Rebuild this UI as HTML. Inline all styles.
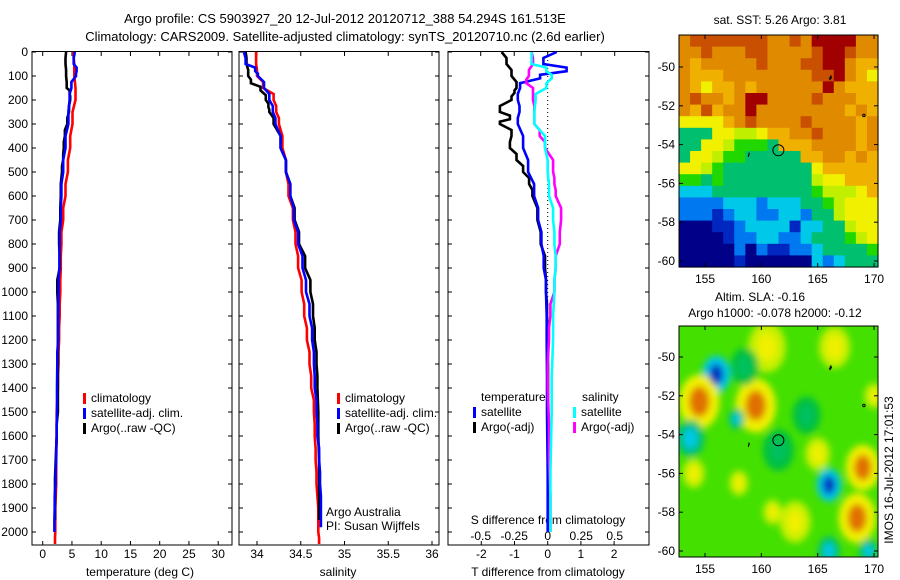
<!DOCTYPE html>
<html><head><meta charset="utf-8"><style>
html,body{margin:0;padding:0;background:#fff}
svg{display:block;font-family:"Liberation Sans",sans-serif}
</style></head><body>
<svg id="c" width="900" height="580" xmlns="http://www.w3.org/2000/svg">
<defs>
<filter id="blur" x="-20%" y="-20%" width="140%" height="140%"><feGaussianBlur stdDeviation="3.5"/></filter>
<clipPath id="clip2"><rect x="679" y="326" width="199" height="231"/></clipPath>
</defs>
<text x="345" y="23" font-size="13" text-anchor="middle">Argo profile: CS 5903927_20 12-Jul-2012 20120712_388 54.294S 161.513E</text>
<text x="345" y="41" font-size="13" text-anchor="middle">Climatology: CARS2009. Satellite-adjusted climatology: synTS_20120710.nc (2.6d earlier)</text>
<g id="g"></g>
</svg>
<script>
// ---- data ----
const depthTicks=[0,100,200,300,400,500,600,700,800,900,1000,1100,1200,1300,1400,1500,1600,1700,1800,1900,2000];
const tTicks=[0,5,10,15,20,25,30];
const sTicks=[34,34.5,35,35.5,36];
const dTTicks=[-2,-1,0,1,2];
const dSTicks=[-0.5,-0.25,0,0.25,0.5];
const dSTickLabels=["-0.5","-0.25","0","0.25","0.5"];
const lonTicks=[155,160,165,170];
const latTicks=[-50,-52,-54,-56,-58,-60];

const tClimD=[0,100,200,300,400,500,600,700,800,900,1000,1100,1200,1300,1400,1600,1800,2000,2050];
const tClimV=[5.2,5.4,5.6,5.1,4.7,4.3,3.9,3.5,3.2,3.1,3.0,2.9,2.8,2.7,2.6,2.4,2.3,2.15,2.1];
const tSatD=[0,50,80,100,150,200,300,400,500,600,700,800,900,1000,1200,1300,1500,1600,1700,1800,1900,2000];
const tSatV=[5.5,5.3,5.8,5.7,4.9,4.6,4.4,3.9,3.5,3.2,3.1,2.9,2.85,2.7,2.65,2.5,2.45,2.4,2.3,2.2,2.05,2.0];
const tArgoD=[0,50,100,150,170,200,250,300,350,400,450,500,600,700,800,900,1000,1100,1500,1600,1950];
const tArgoV=[4.0,3.9,4.0,4.1,4.6,4.7,4.5,4.2,3.8,3.6,3.5,3.3,3.1,3.0,2.8,2.9,2.5,2.6,2.6,2.4,2.1];

const sClimD=[0,50,100,150,200,250,300,400,500,600,700,800,900,1000,1100,1200,1300,1400,1500,1600,1700,1800,2000,2050];
const sClimV=[33.99,33.99,34.0,34.07,34.19,34.22,34.25,34.29,34.33,34.36,34.41,34.44,34.47,34.51,34.54,34.57,34.6,34.62,34.65,34.66,34.67,34.68,34.7,34.71];
const sSatD=[0,50,80,100,150,200,250,300,400,500,600,700,800,900,1000,1100,1200,1300,1400,1500,1600,1700,1800,1900,1980];
const sSatV=[33.85,33.87,33.98,34.01,34.08,34.14,34.18,34.21,34.27,34.33,34.38,34.42,34.47,34.52,34.56,34.6,34.63,34.65,34.66,34.68,34.69,34.71,34.72,34.73,34.73];
const sArgoD=[0,50,100,130,160,200,230,250,300,400,500,600,700,800,900,1000,1100,1200,1300,1400,1600,1800,1950];
const sArgoV=[33.87,33.88,33.9,33.93,34.04,34.1,34.13,34.14,34.19,34.27,34.33,34.38,34.43,34.48,34.55,34.61,34.64,34.66,34.68,34.69,34.7,34.71,34.71];

const dTSatD=[0,50,80,110,150,200,250,300,400,500,600,700,800,900,1000,1200,1500,2000];
const dTSatV=[0.27,-0.13,0.57,-0.23,-0.83,-0.9,-0.85,-0.9,-0.74,-0.59,-0.41,-0.29,-0.19,-0.12,-0.05,-0.03,-0.02,0];
const dTArgoD=[0,50,100,150,170,200,250,280,300,350,400,450,500,550,600,700,800,900,1000,1100,1500,1950];
const dTArgoV=[-1.39,-1.24,-1.09,-0.94,-1.0,-1.09,-1.44,-1.14,-1.44,-1.09,-1.14,-0.94,-0.74,-0.56,-0.46,-0.31,-0.21,-0.08,-0.05,-0.02,0.01,0.03];
const dSSatD=[0,50,80,110,150,200,300,400,500,600,700,800,900,1000,1200,1500,2000];
const dSSatV=[-0.12,-0.12,-0.01,0.03,-0.01,-0.09,-0.1,-0.02,0.0,0.01,0.04,0.05,0.06,0.05,0.04,0.03,0.02];
const dSArgoD=[0,50,100,130,170,200,250,300,350,400,500,550,600,700,800,900,1000,1100,1200,1400,1700,2000];
const dSArgoV=[-0.12,-0.11,-0.14,-0.16,-0.11,-0.11,-0.1,-0.1,-0.06,-0.02,0.04,0.05,0.06,0.1,0.09,0.06,0.05,0.02,0.01,0.0,0.01,0.02];

const sstRows=[
"orrrrrrrooroRRRRoo","oorooorroooorRRroo","oOooooorooorrRRoOO","oOOOoooooooorrRoOy",
"oOyOOoOooooooRoOOO","orooOoRRooooroooOO","oOrOooRooooooooOoO","yyyyOoroooorooooOo",
"GGGyyYYyOOooroooOo","GGyyYgggGOOOooooOo","GyyYggGGGGGOOooOoO","yyYgGGGGGGGGyOOOOO",
"ggGgGGGGGGGGYyyOOO","cccGGGGGGGGGgYYYyO","bbbbcccbcccGGgYyyy","bbbBbccbbccbGGYyyy",
"nnnBBbccccBccGGYyy","nnnnBbbccbbcGGGgYy","nnnnnbnbBBbbcGGGGg","nnnnnBnnnnnncbcGGG"];
// SLA blobs: lon, lat, radius(deg), colour code
const slaLon=[156,154.5,159.5,169,168.5,166,153.7,157.8,160.5,165,163,154,158,161,166.5,170,161.5,158.5,166,169.5,164];
const slaLat=[-50.9,-52.3,-52.5,-55.7,-58.3,-56.6,-54.2,-53.2,-49.5,-55,-58.5,-56,-56.5,-58,-49.5,-52,-54.8,-50.5,-60,-60,-53];
const slaRad=[0.9,1.3,1.3,1.1,1.2,0.8,0.9,0.5,1.2,0.8,1.0,0.7,0.6,0.6,1.0,0.6,1.0,0.9,0.7,0.6,0.9];
const slaCol=["B","O","O","O","O","B","c","c","y","y","y","y","y","y","y","y","G","G","c","c","G"];

const C={R:"#a00000",r:"#c85000",o:"#e08a00",O:"#f0b000",y:"#f0f000",Y:"#c0f000",g:"#20d800",G:"#00c070",c:"#00c8e8",b:"#0078f0",B:"#0028c0",n:"#000088"};

// ---- helpers ----
const NS="http://www.w3.org/2000/svg";
const root=document.getElementById('g');
function mk(tag,attrs,parent){const e=document.createElementNS(NS,tag);for(const k in attrs)e.setAttribute(k,attrs[k]);(parent||root).appendChild(e);return e;}
function txt(x,y,s,size,anchor,parent){const t=mk('text',{x:x,y:y,'font-size':size||12,'text-anchor':anchor||'middle'},parent);t.textContent=s;return t;}
const Y0=52,DS=0.24,YB=545;
const yD=d=>Y0+d*DS;
const xT=v=>42.7+v*5.85;
const xS=v=>257+(v-34)*87.5;
const xDT=v=>547.7+v*33.2;
const xDS=v=>547.7+v*134;
function stepPath(D,V,fx){let s="";for(let i=0;i<D.length;i++){const x=fx(V[i]).toFixed(1),y=yD(D[i]).toFixed(1);if(i==0)s+="M"+x+","+y;else{s+="L"+x+","+yD((D[i-1]+D[i])/2).toFixed(1)+"L"+x+","+y;}}return s;}
function series(D,V,fx,col,name){const p=mk('path',{d:stepPath(D,V,fx),fill:'none',stroke:col,'stroke-width':2.6,'stroke-linejoin':'miter'});

}
function panel(x0,x1,name){const r=mk('rect',{x:x0,y:51.5,width:x1-x0,height:YB-51.5,fill:'none',stroke:'#000','stroke-width':1});


depthTicks.forEach(d=>{mk('line',{x1:x0,x2:x0+4,y1:yD(d),y2:yD(d),stroke:'#000'});mk('line',{x1:x1,x2:x1-4,y1:yD(d),y2:yD(d),stroke:'#000'});});}
function legend(x,y,items,parent){items.forEach((it,i)=>{mk('rect',{x:x,y:y+i*15-9,width:3,height:11,fill:it[1]});const t=txt(x+8,y+i*15,it[0],12,'start');

});}

// ---- panel 1: temperature ----
panel(32,232,'temperature-panel');
depthTicks.forEach(d=>{const t=txt(28,yD(d)+4,String(d),12,'end');

});
tTicks.forEach(v=>{mk('line',{x1:xT(v),x2:xT(v),y1:YB,y2:YB-4,stroke:'#000'});mk('line',{x1:xT(v),x2:xT(v),y1:51.5,y2:56,stroke:'#000'});const t=txt(xT(v),558,String(v),12);

});
(function(){const t=txt(140,576,'temperature (deg C)',12);})();
series(tClimD,tClimV,xT,'#f00','temperature-climatology-line');
series(tArgoD,tArgoV,xT,'#000','temperature-argo-line');
series(tSatD,tSatV,xT,'#00f','temperature-satellite-line');
legend(83,402,[['climatology','#f00'],['satellite-adj. clim.','#00f'],['Argo(..raw -QC)','#000']]);

// ---- panel 2: salinity ----
panel(239,439,'salinity-panel');
sTicks.forEach(v=>{mk('line',{x1:xS(v),x2:xS(v),y1:YB,y2:YB-4,stroke:'#000'});mk('line',{x1:xS(v),x2:xS(v),y1:51.5,y2:56,stroke:'#000'});const t=txt(xS(v),558,String(v),12);

});
(function(){const t=txt(338,576,'salinity',12);})();
series(sClimD,sClimV,xS,'#f00','salinity-climatology-line');
series(sArgoD,sArgoV,xS,'#000','salinity-argo-line');
series(sSatD,sSatV,xS,'#00f','salinity-satellite-line');
legend(337,402,[['climatology','#f00'],['satellite-adj. clim.','#00f'],['Argo(..raw -QC)','#000']]);
txt(326,516,'Argo Australia',12,'start');
txt(326,530,'PI: Susan Wijffels',12,'start');

// ---- panel 3: differences ----
panel(448,649,'difference-panel');
mk('line',{x1:xDT(0),x2:xDT(0),y1:52,y2:515,stroke:'#000','stroke-dasharray':'1,3'});
dTTicks.forEach(v=>{mk('line',{x1:xDT(v),x2:xDT(v),y1:YB,y2:YB-4,stroke:'#000'});const t=txt(xDT(v),558,String(v),12);

});
dSTicks.forEach((v,i)=>{mk('line',{x1:xDS(v),x2:xDS(v),y1:51.5,y2:56,stroke:'#000'});const t=txt(xDS(v),540,dSTickLabels[i],12);

});
(function(){const t=txt(548,524,'S difference from climatology',12);
const u=txt(548,576,'T difference from climatology',12);})();
series(dTArgoD,dTArgoV,xDT,'#000','t-difference-argo-line');
series(dTSatD,dTSatV,xDT,'#00f','t-difference-satellite-line');
series(dSArgoD,dSArgoV,xDS,'#f0f','s-difference-argo-line');
series(dSSatD,dSSatV,xDS,'#0ff','s-difference-satellite-line');
txt(481,401,'temperature',12,'start');
txt(582,401,'salinity',12,'start');
legend(473,416,[['satellite','#00f'],['Argo(-adj)','#000']]);
legend(573,416,[['satellite','#0ff'],['Argo(-adj)','#f0f']]);

// ---- maps ----
const mxL=lon=>705+(lon-155)*11.27;
function drawAxes(y0,y1,latY,name){const r=mk('rect',{x:679,y:y0,width:199,height:y1-y0,fill:'none',stroke:'#000'});


lonTicks.forEach(v=>{mk('line',{x1:mxL(v),x2:mxL(v),y1:y1,y2:y1-4,stroke:'#000'});mk('line',{x1:mxL(v),x2:mxL(v),y1:y0,y2:y0+4,stroke:'#000'});txt(mxL(v),y1+16,String(v),12);});
latTicks.forEach(v=>{mk('line',{x1:679,x2:683,y1:latY(v),y2:latY(v),stroke:'#000'});mk('line',{x1:878,x2:874,y1:latY(v),y2:latY(v),stroke:'#000'});txt(675,latY(v)+4,String(v),12,'end');});
mk('circle',{cx:mxL(161.51),cy:latY(-54.294),r:5.5,fill:'none',stroke:'#000','stroke-width':1});
mk('path',{d:`M${mxL(166)} ${latY(-50.6)} l2 -4 l1 3 l-2 3z`,fill:'#000'});
mk('path',{d:`M${mxL(158.8)} ${latY(-54.6)} l1 -4 l1 1 l-1 4z`,fill:'#000'});
mk('circle',{cx:mxL(169.1),cy:latY(-52.5),r:1.2,fill:'none',stroke:'#000'});}
// map 1 SST
const lat1=v=>67+(-50-v)*19.4;
const cw=199/18,ch=232/20;
sstRows.forEach((row,i)=>{for(let j=0;j<row.length;j++){mk('rect',{x:(679+j*cw).toFixed(2),y:(35+i*ch).toFixed(2),width:(cw+0.6).toFixed(2),height:(ch+0.6).toFixed(2),fill:C[row[j]]});}});
drawAxes(35,267,lat1,'sst-map');
(function(){const t=txt(780,24,'sat. SST: 5.26 Argo: 3.81',12);})();
// map 2 SLA
const lat2=v=>357+(-50-v)*19.4;
const g2=mk('g',{'clip-path':'url(#clip2)'});
mk('rect',{x:679,y:326,width:199,height:231,fill:'#44e000'},g2);
const gb=mk('g',{filter:'url(#blur)'},g2);
const halo={O:'#f0f000',B:'#00c8e8',c:'#00c070',y:'#c8f000',G:'#00c040'};
slaLon.forEach((lon,i)=>{const cx=mxL(lon),cy=lat2(slaLat[i]),r=slaRad[i]*13;
mk('ellipse',{cx:cx,cy:cy,rx:r*1.2,ry:r*1.6,fill:halo[slaCol[i]]},gb);});
slaLon.forEach((lon,i)=>{const cx=mxL(lon),cy=lat2(slaLat[i]),r=slaRad[i]*13;
const col={O:'#e07000',B:'#0030c0',c:'#00c8e8',y:'#f0f000',G:'#00c060'}[slaCol[i]];
mk('ellipse',{cx:cx,cy:cy,rx:r*0.6,ry:r*0.9,fill:col},gb);});
drawAxes(326,557,lat2,'sla-map');
(function(){const t=txt(760,301,'Altim. SLA: -0.16',12);
const u=txt(775,317,'Argo h1000: -0.078 h2000: -0.12',12);
const w=mk('text',{x:0,y:0,'font-size':12,'text-anchor':'middle',transform:'translate(893,470) rotate(-90)'});w.textContent='IMOS 16-Jul-2012 17:01:53';

})();
</script>
</body></html>
